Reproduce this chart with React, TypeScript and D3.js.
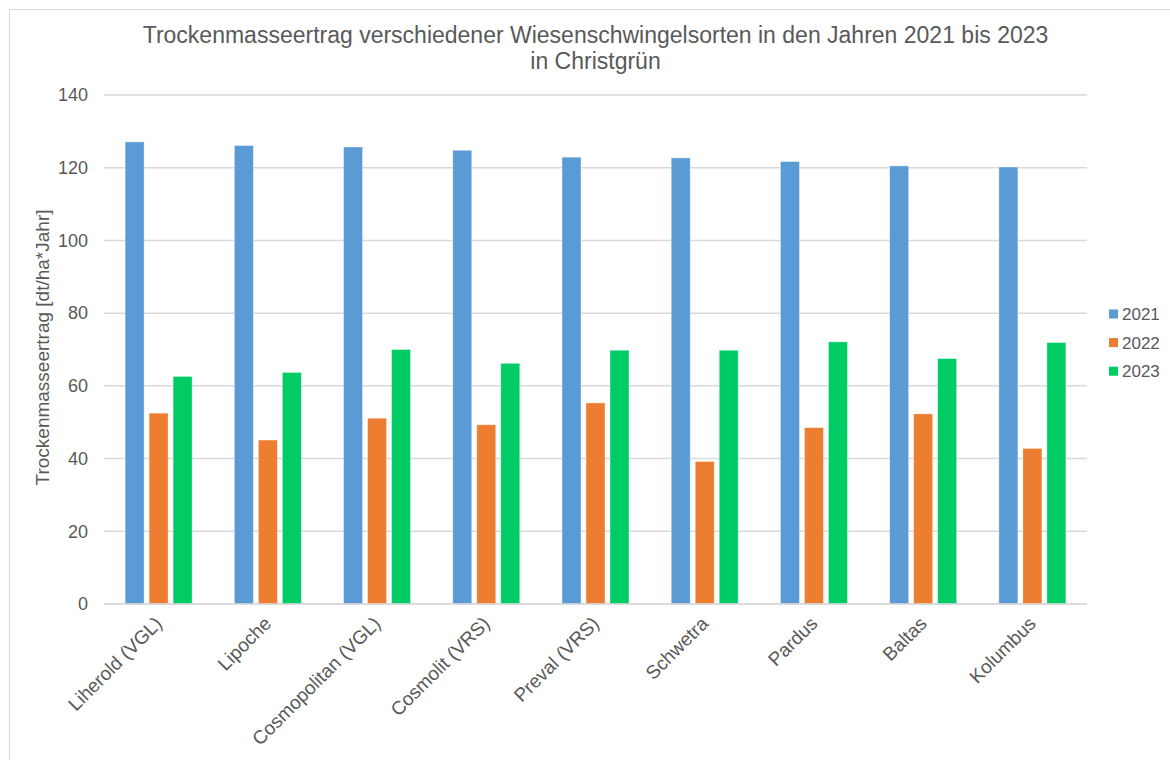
import React from "react";
import * as d3 from "d3";

const categories = [
  "Liherold (VGL)",
  "Lipoche",
  "Cosmopolitan (VGL)",
  "Cosmolit (VRS)",
  "Preval (VRS)",
  "Schwetra",
  "Pardus",
  "Baltas",
  "Kolumbus",
];
const seriesNames = ["2021", "2022", "2023"];
const values2021 = [127.1, 126.1, 125.7, 124.8, 122.9, 122.7, 121.7, 120.5, 120.2];
const values2022 = [52.5, 45.1, 51.1, 49.3, 55.3, 39.2, 48.5, 52.3, 42.8];
const values2023 = [62.6, 63.7, 70.0, 66.2, 69.8, 69.8, 72.1, 67.5, 71.9];
const yTicks = [0, 20, 40, 60, 80, 100, 120, 140];
const colors = ["#5B9BD5", "#ED7D31", "#00CC66"];
const titleLines = [
  "Trockenmasseertrag verschiedener Wiesenschwingelsorten in den Jahren 2021 bis 2023",
  "in Christgrün",
];
const yAxisTitle = "Trockenmasseertrag [dt/ha*Jahr]";

const W = 1170;
const H = 760;
const FONT = "'Liberation Sans', Arial, sans-serif";
const TEXT = "#595959";

export default function App() {
  const plotLeft = 104;
  const plotRight = 1087;
  const plotTop = 95;
  const plotBottom = 604;
  const series = [values2021, values2022, values2023];

  const x0 = d3.scaleBand<string>().domain(categories).range([plotLeft, plotRight]).padding(0);
  const groupW = 67;
  const x1 = d3.scaleBand<string>().domain(seriesNames).range([0, groupW]).paddingInner(0.208).paddingOuter(0);
  const y = d3.scaleLinear().domain([0, 140]).range([plotBottom, plotTop]);

  const cx = (c: string) => (x0(c) ?? 0) + x0.bandwidth() / 2;

  return (
    <svg width={W} height={H} style={{ position: "absolute", left: 0, top: 0, background: "#fff" }} fontFamily={FONT}>
      <rect x={0} y={0} width={W} height={H} fill="#fff" />
      <line x1={9.5} y1={9.5} x2={9.5} y2={H} stroke="#D9D9D9" strokeWidth={1} />
      <line x1={9.5} y1={9.5} x2={W} y2={9.5} stroke="#D9D9D9" strokeWidth={1} />

      {/* Title */}
      <text x={(plotLeft + plotRight) / 2} y={43} textAnchor="middle" fontSize={23} fill={TEXT}>
        {titleLines[0]}
      </text>
      <text x={(plotLeft + plotRight) / 2} y={69} textAnchor="middle" fontSize={23} fill={TEXT}>
        {titleLines[1]}
      </text>

      {/* Gridlines */}
      {yTicks.map((t) => (
        <line key={"g" + t} x1={plotLeft} x2={plotRight} y1={y(t)} y2={y(t)} stroke="#D9D9D9" strokeWidth={1.5} />
      ))}

      {/* Y tick labels */}
      {yTicks.map((t) => (
        <text key={"t" + t} x={88} y={y(t)} dy="0.35em" textAnchor="end" fontSize={18} fill={TEXT}>
          {t}
        </text>
      ))}

      {/* Y axis title */}
      <text
        transform={`translate(42, ${(plotTop + plotBottom) / 2 - 2}) rotate(-90)`}
        textAnchor="middle"
        dy="0.35em"
        fontSize={19}
        fill={TEXT}
      >
        {yAxisTitle}
      </text>

      {/* Bars */}
      {categories.map((c, i) => {
        const gx = cx(c) - groupW / 2;
        return (
          <g key={c}>
            {seriesNames.map((s, k) => {
              const v = series[k][i];
              return (
                <rect
                  key={s}
                  x={gx + (x1(s) ?? 0)}
                  y={y(v)}
                  width={x1.bandwidth()}
                  height={y(0) - y(v)}
                  fill={colors[k]}
                  stroke="#ffffff"
                  strokeOpacity={0.5}
                  strokeWidth={0.75}
                />
              );
            })}
          </g>
        );
      })}

      {/* X axis line */}
      <line x1={plotLeft} x2={plotRight} y1={plotBottom} y2={plotBottom} stroke="#D9D9D9" strokeWidth={1.5} />

      {/* X labels */}
      {categories.map((c) => (
        <text
          key={"x" + c}
          transform={`translate(${cx(c)}, ${plotBottom + 16}) rotate(-45)`}
          textAnchor="end"
          dy="0.35em"
          fontSize={19}
          fill={TEXT}
        >
          {c}
        </text>
      ))}

      {/* Legend */}
      {seriesNames.map((s, k) => (
        <g key={"l" + s} transform={`translate(1109, ${314 + k * 28.6})`}>
          <rect x={0} y={-4.5} width={9} height={9} fill={colors[k]} />
          <text x={13} y={0} dy="0.35em" fontSize={17} fill={TEXT}>
            {s}
          </text>
        </g>
      ))}
    </svg>
  );
}
